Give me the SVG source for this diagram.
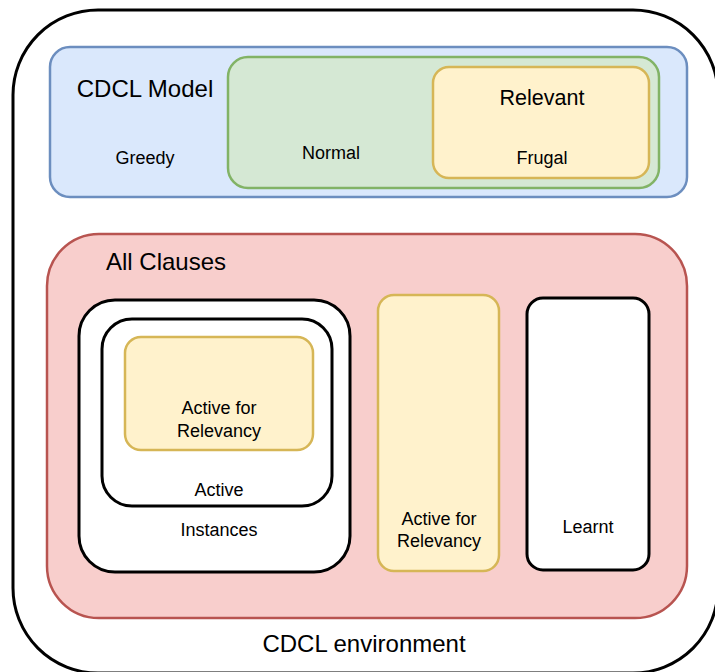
<svg xmlns="http://www.w3.org/2000/svg" width="715" height="672" viewBox="0 0 715 672">
<style>
text{font-family:"Liberation Sans",Arial,sans-serif;fill:#000;text-anchor:middle;}
.s{font-size:18px;}
.l{font-size:24px;}
.blue{fill:#dae8fc;stroke:#6c8ebf;stroke-width:2.5;}
.green{fill:#d5e8d4;stroke:#82b366;stroke-width:2.5;}
.yellow{fill:#fff2cc;stroke:#d6b656;stroke-width:2.5;}
.red{fill:#f8cecc;stroke:#b85450;stroke-width:2.5;}
.white{fill:#fff;stroke:#000;stroke-width:3;}
</style>
<rect width="715" height="672" fill="#fff"/>
<g id="env">
<rect class="white" x="13" y="10" width="705" height="663" rx="85"/>
<text class="l" x="364" y="652">CDCL environment</text>
</g>
<g id="model">
<rect class="blue" x="50" y="47" width="637" height="150" rx="20"/>
<text class="l" x="145" y="97">CDCL Model</text>
<text class="s" x="145" y="164">Greedy</text>
</g>
<g id="normal">
<rect class="green" x="228" y="57" width="431" height="131" rx="20"/>
<text class="s" x="331" y="159">Normal</text>
</g>
<g id="relevant">
<rect class="yellow" x="433" y="67" width="216" height="111" rx="16"/>
<text x="542" y="105" style="font-size:21.5px">Relevant</text>
<text class="s" x="542" y="164">Frugal</text>
</g>
<g id="allclauses">
<rect class="red" x="47" y="234" width="640" height="384" rx="52"/>
<text class="l" x="166" y="270">All Clauses</text>
</g>
<g id="instances">
<rect class="white" x="79" y="300" width="271" height="272" rx="36"/>
<text class="s" x="219" y="536">Instances</text>
</g>
<g id="active">
<rect class="white" x="102" y="319" width="230" height="187" rx="30"/>
<text class="s" x="219" y="496">Active</text>
</g>
<g id="afr1">
<rect class="yellow" x="125" y="337" width="188" height="113" rx="16"/>
<text class="s" x="219" y="414">Active for</text>
<text class="s" x="219" y="437">Relevancy</text>
</g>
<g id="afr2">
<rect class="yellow" x="378" y="295" width="121" height="276" rx="16"/>
<text class="s" x="439" y="525">Active for</text>
<text class="s" x="439" y="547">Relevancy</text>
</g>
<g id="learnt">
<rect class="white" x="527" y="298" width="122" height="272" rx="16"/>
<text class="s" x="588" y="533">Learnt</text>
</g>
<g id="connectors"></g>
</svg>
